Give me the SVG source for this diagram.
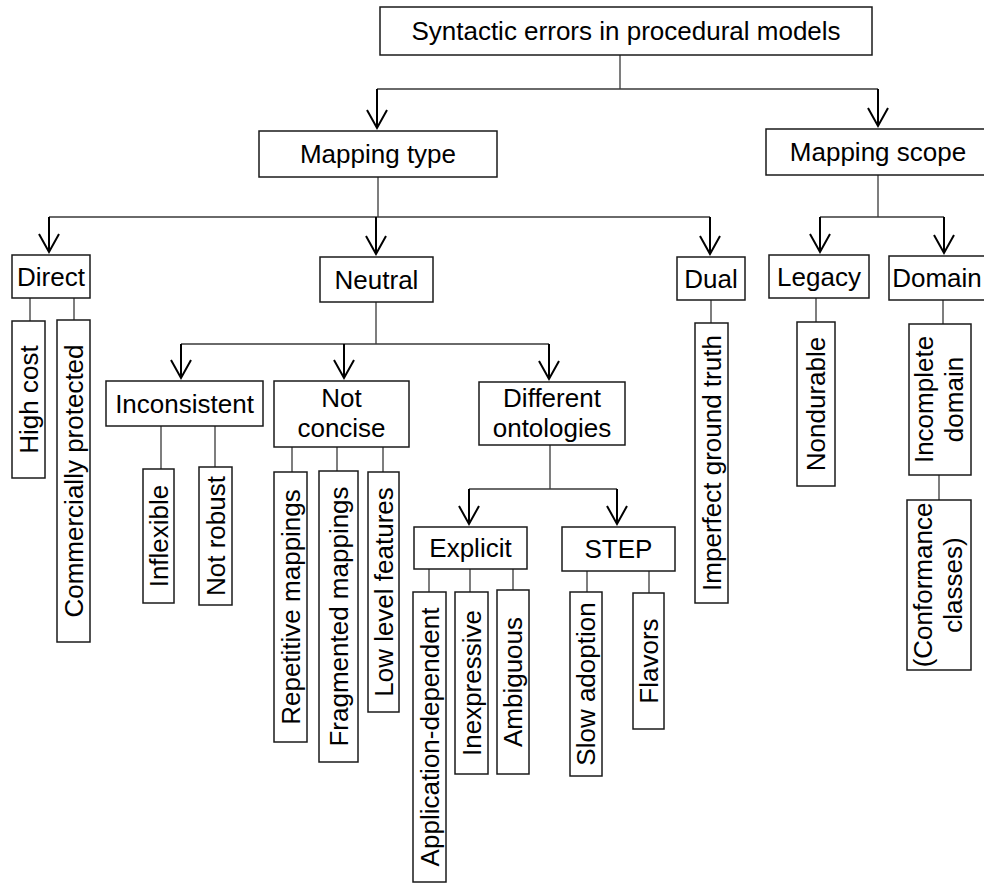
<svg xmlns="http://www.w3.org/2000/svg" width="984" height="884" viewBox="0 0 984 884">
<style>
.box{fill:#fff;stroke:#1a1a1a;stroke-width:1.5}
.t{font-family:"Liberation Sans",Arial,sans-serif;font-size:26px;fill:#000;text-anchor:middle}
.ln{fill:none;stroke:#3a3a3a;stroke-width:1.3}
.ar{fill:none;stroke:#000;stroke-width:2}
</style>
<defs>
<marker id="v" markerUnits="userSpaceOnUse" viewBox="-20 -12 22 24" markerWidth="22" markerHeight="24" refX="0" refY="0" orient="auto" overflow="visible">
<path d="M-18,-10 L0,0 L-18,10" fill="none" stroke="#000" stroke-width="2"/>
</marker>
</defs>
<rect width="984" height="884" fill="#fff"/>
<g id="connectors">
<path class="ln" d="M620,55V89M377,89H878"/>
<path class="ar" d="M377,89V128" marker-end="url(#v)"/>
<path class="ar" d="M878,89V126" marker-end="url(#v)"/>
<path class="ln" d="M378,177V217M49,217H710"/>
<path class="ar" d="M49,217V252" marker-end="url(#v)"/>
<path class="ar" d="M376,217V254" marker-end="url(#v)"/>
<path class="ar" d="M710,217V254" marker-end="url(#v)"/>
<path class="ln" d="M878,175V217M820,217H944"/>
<path class="ar" d="M820,217V252" marker-end="url(#v)"/>
<path class="ar" d="M944,217V253" marker-end="url(#v)"/>
<path class="ln" d="M376,302V344M181,344H549"/>
<path class="ar" d="M181,344V378" marker-end="url(#v)"/>
<path class="ar" d="M344,344V378" marker-end="url(#v)"/>
<path class="ar" d="M549,344V379" marker-end="url(#v)"/>
<path class="ln" d="M550,445V489M469,489H617"/>
<path class="ar" d="M469,489V524" marker-end="url(#v)"/>
<path class="ar" d="M617,489V524" marker-end="url(#v)"/>
<path class="ln" d="M30,298V321M74,298V320M711,300V323M816,298V322M943,300V324M939,475V500M161,426V469M215,426V467M292,447V472M337,447V471M383,447V472M429,569V592M470,569V592M513,569V590M587,571V592M649,571V593"/>
</g>
<g id="root"><rect class="box" x="380" y="7" width="492" height="48"/><text class="t" x="626" y="40">Syntactic errors in procedural models</text></g>
<g id="mapping-type"><rect class="box" x="259" y="131" width="238" height="46"/><text class="t" x="378" y="163">Mapping type</text></g>
<g id="mapping-scope"><rect class="box" x="766" y="129" width="224" height="46"/><text class="t" x="878" y="161">Mapping scope</text></g>
<g id="direct"><rect class="box" x="12" y="255" width="78" height="43"/><text class="t" x="51" y="286">Direct</text></g>
<g id="neutral"><rect class="box" x="320" y="257" width="113" height="45"/><text class="t" x="376.5" y="289">Neutral</text></g>
<g id="dual"><rect class="box" x="677" y="257" width="68" height="43"/><text class="t" x="711" y="288">Dual</text></g>
<g id="legacy"><rect class="box" x="769" y="255" width="100" height="43"/><text class="t" x="819" y="286">Legacy</text></g>
<g id="domain"><rect class="box" x="889" y="256" width="110" height="44"/><text class="t" x="937" y="287">Domain</text></g>
<g id="inconsistent"><rect class="box" x="106" y="381" width="157" height="45"/><text class="t" x="184.5" y="413">Inconsistent</text></g>
<g id="not-concise"><rect class="box" x="274" y="381" width="135" height="66"/><text class="t" x="341.5" y="407">Not</text><text class="t" x="341.5" y="437">concise</text></g>
<g id="different-ontologies"><rect class="box" x="479" y="382" width="146" height="63"/><text class="t" x="552" y="407">Different</text><text class="t" x="552" y="437">ontologies</text></g>
<g id="explicit"><rect class="box" x="414" y="527" width="113" height="42"/><text class="t" x="470.5" y="557">Explicit</text></g>
<g id="step"><rect class="box" x="562" y="527" width="113" height="44"/><text class="t" x="618.5" y="558">STEP</text></g>
<g id="high-cost"><rect class="box" x="12" y="321" width="33" height="157"/><text class="t" transform="translate(28.5,399.5) rotate(-90)" y="9">High cost</text></g>
<g id="commercially-protected"><rect class="box" x="57" y="320" width="33" height="322"/><text class="t" transform="translate(73.5,481) rotate(-90)" y="9">Commercially protected</text></g>
<g id="inflexible"><rect class="box" x="143" y="469" width="31" height="134"/><text class="t" transform="translate(158.5,536) rotate(-90)" y="9">Inflexible</text></g>
<g id="not-robust"><rect class="box" x="199" y="467" width="33" height="138"/><text class="t" transform="translate(215.5,536) rotate(-90)" y="9">Not robust</text></g>
<g id="repetitive-mappings"><rect class="box" x="274" y="472" width="33" height="270"/><text class="t" transform="translate(290.5,607) rotate(-90)" y="9">Repetitive mappings</text></g>
<g id="fragmented-mappings"><rect class="box" x="319" y="471" width="39" height="291"/><text class="t" transform="translate(338.5,616.5) rotate(-90)" y="9">Fragmented mappings</text></g>
<g id="low-level-features"><rect class="box" x="368" y="472" width="31" height="240"/><text class="t" transform="translate(383.5,592) rotate(-90)" y="9">Low level features</text></g>
<g id="application-dependent"><rect class="box" x="413" y="592" width="33" height="290"/><text class="t" transform="translate(429.5,737) rotate(-90)" y="9">Application-dependent</text></g>
<g id="inexpressive"><rect class="box" x="455" y="592" width="33" height="182"/><text class="t" transform="translate(471.5,683) rotate(-90)" y="9">Inexpressive</text></g>
<g id="ambiguous"><rect class="box" x="497" y="590" width="32" height="184"/><text class="t" transform="translate(513,682) rotate(-90)" y="9">Ambiguous</text></g>
<g id="slow-adoption"><rect class="box" x="570" y="592" width="32" height="184"/><text class="t" transform="translate(586,684) rotate(-90)" y="9">Slow adoption</text></g>
<g id="flavors"><rect class="box" x="633" y="593" width="31" height="136"/><text class="t" transform="translate(648.5,661) rotate(-90)" y="9">Flavors</text></g>
<g id="imperfect-ground-truth"><rect class="box" x="695" y="323" width="33" height="280"/><text class="t" transform="translate(711.5,463) rotate(-90)" y="9">Imperfect ground truth</text></g>
<g id="nondurable"><rect class="box" x="797" y="322" width="38" height="164"/><text class="t" transform="translate(816,404) rotate(-90)" y="9">Nondurable</text></g>
<g id="incomplete-domain"><rect class="box" x="909" y="324" width="62" height="151"/><text class="t" transform="translate(940,399.5) rotate(-90)"><tspan x="0" y="-7">Incomplete</tspan><tspan x="0" y="23">domain</tspan></text></g>
<g id="conformance-classes"><rect class="box" x="907" y="500" width="64" height="170"/><text class="t" transform="translate(939,585) rotate(-90)"><tspan x="0" y="-7">(Conformance</tspan><tspan x="0" y="23">classes)</tspan></text></g>
</svg>
